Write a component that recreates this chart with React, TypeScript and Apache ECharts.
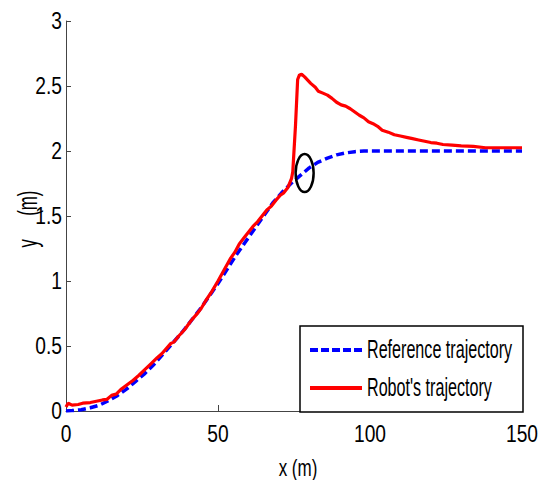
import React, { useEffect, useRef } from "react";
import * as echarts from "echarts";

// Reference trajectory (x in m, y in m)
const refX = [0, 2, 5, 8, 11, 14, 17, 20, 23, 26, 29, 32, 35, 38, 41, 44, 47, 50, 53, 56, 59, 62, 65, 68, 71, 74, 77, 80, 83, 86, 89, 92, 95, 98, 101, 110, 120, 130, 140, 150];
const refY = [0, 0.003, 0.01, 0.025, 0.045, 0.08, 0.12, 0.17, 0.23, 0.29, 0.36, 0.44, 0.52, 0.6, 0.69, 0.78, 0.88, 0.98, 1.09, 1.2, 1.3, 1.4, 1.5, 1.6, 1.68, 1.75, 1.81, 1.87, 1.915, 1.945, 1.97, 1.985, 1.995, 2.0, 2.0, 2.0, 2.0, 2.0, 2.0, 2.0];

// Robot's trajectory (x in m, y in m)
const robX = [0, 0.7, 2, 4, 5.5, 8, 10, 12, 13.5, 15, 16.5, 18, 20, 22, 24, 26, 28, 30, 31.5, 33, 34.5, 35.5, 37, 39, 41, 43, 44.5, 46, 48, 50, 52, 54, 55.5, 57, 58.5, 60, 61.5, 63, 64.5, 66, 67.5, 69, 70.5, 71.5, 73, 74.2, 74.6, 75.5, 76.2, 76.8, 77.5, 78.5, 79.5, 80.5, 82, 83, 84.5, 86, 87.5, 89, 90.5, 92, 93.5, 95, 96.5, 98, 99.5, 101, 102.5, 104, 106, 108, 110, 112, 114, 116, 118, 120, 122, 124, 127, 130, 134, 138, 142, 146, 150];
const robY = [0.03, 0.06, 0.045, 0.05, 0.06, 0.065, 0.075, 0.085, 0.09, 0.12, 0.13, 0.165, 0.2, 0.235, 0.275, 0.32, 0.365, 0.41, 0.44, 0.48, 0.52, 0.53, 0.575, 0.625, 0.69, 0.745, 0.79, 0.85, 0.92, 1.0, 1.085, 1.17, 1.22, 1.285, 1.33, 1.375, 1.42, 1.455, 1.5, 1.545, 1.575, 1.62, 1.66, 1.675, 1.72, 1.79, 1.84, 2.2, 2.55, 2.585, 2.59, 2.57, 2.545, 2.52, 2.49, 2.46, 2.445, 2.43, 2.405, 2.375, 2.355, 2.345, 2.325, 2.3, 2.275, 2.255, 2.225, 2.21, 2.19, 2.16, 2.145, 2.125, 2.115, 2.105, 2.095, 2.085, 2.075, 2.065, 2.06, 2.05, 2.045, 2.04, 2.035, 2.025, 2.025, 2.025, 2.025];

// Tick labels
const xTicks = [0, 50, 100, 150];
const yTicks = [0, 0.5, 1, 1.5, 2, 2.5, 3];

const seriesNames = ["Reference trajectory", "Robot's trajectory"];
const xTitle = "x (m)";
const yTitle = "y     (m)";

// Point highlighted by the ellipse
const markX = 78.5;
const markY = 1.83;

const FONT = "'Liberation Sans', Arial, Helvetica, sans-serif";
const BLUE = "#0000ff";
const RED = "#ff0000";

// Condensed-looking text: regular face squeezed along the baseline
function condensedText(text: string, x: number, y: number, size: number, squeeze: number, align: string, vAlign: string, rotation = 0) {
  return {
    type: "text",
    x,
    y,
    rotation,
    scaleX: squeeze,
    z: 120,
    silent: true,
    style: { text, x: 0, y: 0, fill: "#000", font: `${size}px ${FONT}`, align, verticalAlign: vAlign },
  };
}

export default function App() {
  const ref = useRef<HTMLDivElement>(null);

  useEffect(() => {
    if (!ref.current) return;
    const chart = echarts.init(ref.current, null, { renderer: "svg" });
    const axisLine = { show: true, lineStyle: { color: "#444", width: 1 } };
    chart.setOption({
      animation: false,
      backgroundColor: "#fff",
      grid: { left: 66, right: 20, top: 21, bottom: 69 },
      xAxis: {
        type: "value",
        min: 0,
        max: 150,
        interval: 50,
        axisLine,
        axisTick: { show: true, inside: true, length: 6, lineStyle: { color: "#444" } },
        axisLabel: { show: false },
        splitLine: { show: false },
      },
      yAxis: {
        type: "value",
        min: 0,
        max: 3,
        interval: 0.5,
        axisLine,
        axisTick: { show: true, inside: true, length: 5, lineStyle: { color: "#444" } },
        axisLabel: { show: false },
        splitLine: { show: false },
      },
      series: [
        {
          name: seriesNames[0],
          type: "line",
          showSymbol: false,
          symbol: "none",
          lineStyle: { color: BLUE, width: 3.5, type: [8, 4] },
          itemStyle: { color: BLUE },
          data: refX.map((x, i) => [x, refY[i]]),
        },
        {
          name: seriesNames[1],
          type: "line",
          showSymbol: false,
          symbol: "none",
          lineStyle: { color: RED, width: 3.2 },
          itemStyle: { color: RED },
          data: robX.map((x, i) => [x, robY[i]]),
        },
      ],
    });

    const toPx = (x: number, y: number) =>
      chart.convertToPixel({ xAxisIndex: 0, yAxisIndex: 0 }, [x, y]) as number[];

    const graphics: any[] = [];

    // Tick labels
    xTicks.forEach((v) => {
      const [px, py] = toPx(v, 0);
      graphics.push(condensedText(String(v), px, py + 23, 24, 0.8, "center", "middle"));
    });
    yTicks.forEach((v) => {
      const [px, py] = toPx(0, v);
      graphics.push(condensedText(String(v), px - 4, py, 24, 0.8, "right", "middle"));
    });

    // Axis titles
    const [x0, y0] = toPx(0, 0);
    const [x1, y1] = toPx(150, 3);
    graphics.push(condensedText(xTitle, (x0 + x1) / 2 + 4, y0 + 57, 23, 0.74, "center", "middle"));
    graphics.push(condensedText(yTitle, 27, (y0 + y1) / 2 + 3, 28, 0.6, "center", "middle", Math.PI / 2));

    // Ellipse around the deviation point
    const [cx, cy] = toPx(markX, markY);
    graphics.push({
      type: "ellipse",
      z: 100,
      silent: true,
      shape: { cx, cy, rx: 9, ry: 19 },
      style: { fill: "none", stroke: "#000", lineWidth: 2.5 },
    });

    // Legend box
    const lgRight = x1 + 1;
    const lgBottom = y0 + 1;
    const lgW = 223;
    const lgH = 86;
    const lgL = lgRight - lgW;
    const lgT = lgBottom - lgH;
    graphics.push({
      type: "rect",
      z: 110,
      silent: true,
      shape: { x: lgL, y: lgT, width: lgW, height: lgH },
      style: { fill: "#fff", stroke: "#000", lineWidth: 1.5 },
    });
    const rowY = [lgT + 24, lgT + 62];
    const lineStyles = [
      { stroke: BLUE, lineWidth: 4, lineDash: [8, 3] },
      { stroke: RED, lineWidth: 4 },
    ];
    seriesNames.forEach((name, i) => {
      graphics.push({
        type: "line",
        z: 115,
        silent: true,
        shape: { x1: lgL + 10, y1: rowY[i], x2: lgL + 62, y2: rowY[i] },
        style: lineStyles[i],
      });
      graphics.push(condensedText(name, lgL + 67, rowY[i] - 1, 26, 0.62, "left", "middle"));
    });

    chart.setOption({ graphic: graphics });

    return () => chart.dispose();
  }, []);

  return <div ref={ref} style={{ width: 542, height: 480, position: "absolute", left: 0, top: 0 }} />;
}
